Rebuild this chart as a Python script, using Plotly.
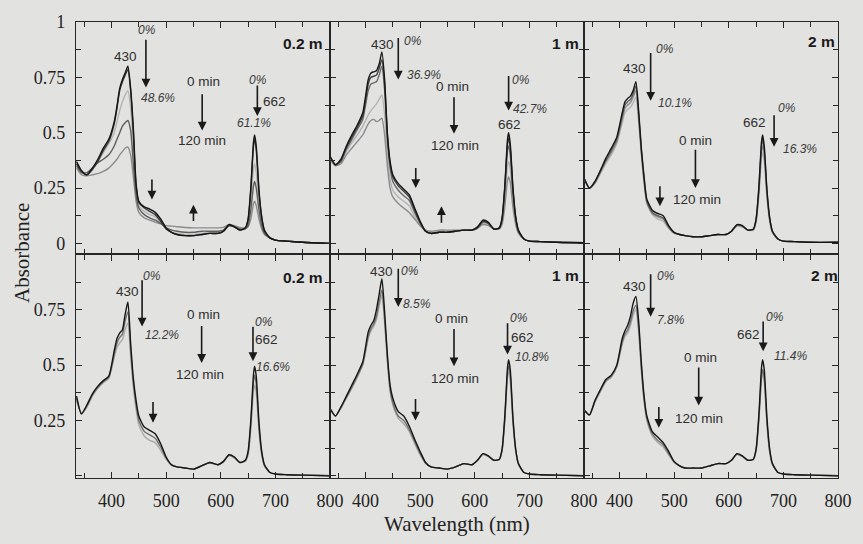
import plotly.graph_objects as go
from plotly.subplots import make_subplots

# ---------------- data ----------------
wavelength = [336, 345, 355, 365, 375, 385, 395, 405, 410, 415, 420, 425, 430, 435, 440, 445, 450,
              460, 470, 480, 490, 500, 510, 520, 535, 550, 565, 580, 595, 605, 615, 625, 635, 645,
              650, 655, 660, 662, 665, 670, 675, 680, 690, 700, 720, 750, 800]

# top row, 0.2 m
tl_0 = [0.37, 0.33, 0.31, 0.34, 0.38, 0.43, 0.47, 0.55, 0.62, 0.70, 0.74, 0.77, 0.80, 0.70, 0.52, 0.27, 0.19,
        0.165, 0.155, 0.14, 0.11, 0.07, 0.05, 0.04, 0.035, 0.035, 0.04, 0.045, 0.045, 0.055, 0.085, 0.075, 0.06, 0.07,
        0.11, 0.25, 0.46, 0.49, 0.44, 0.24, 0.12, 0.06, 0.025, 0.015, 0.01, 0.005, 0.0]
tl_1 = [0.36, 0.325, 0.31, 0.335, 0.37, 0.42, 0.46, 0.54, 0.61, 0.69, 0.73, 0.76, 0.785, 0.69, 0.50, 0.26, 0.185,
        0.16, 0.145, 0.13, 0.10, 0.065, 0.05, 0.04, 0.035, 0.035, 0.04, 0.045, 0.045, 0.055, 0.08, 0.075, 0.06, 0.07,
        0.105, 0.24, 0.44, 0.47, 0.42, 0.23, 0.115, 0.055, 0.025, 0.015, 0.01, 0.005, 0.0]
tl_2 = [0.36, 0.32, 0.31, 0.33, 0.37, 0.41, 0.45, 0.50, 0.55, 0.60, 0.64, 0.67, 0.69, 0.61, 0.45, 0.24, 0.17,
        0.145, 0.13, 0.12, 0.095, 0.065, 0.05, 0.045, 0.04, 0.04, 0.045, 0.05, 0.05, 0.055, 0.08, 0.075, 0.06, 0.065,
        0.09, 0.19, 0.34, 0.36, 0.32, 0.18, 0.095, 0.05, 0.025, 0.015, 0.01, 0.005, 0.0]
tl_3 = [0.35, 0.32, 0.32, 0.34, 0.365, 0.38, 0.40, 0.44, 0.47, 0.50, 0.53, 0.545, 0.555, 0.51, 0.36, 0.22, 0.16,
        0.13, 0.115, 0.105, 0.09, 0.07, 0.06, 0.055, 0.05, 0.05, 0.055, 0.055, 0.055, 0.06, 0.08, 0.075, 0.065, 0.065,
        0.08, 0.15, 0.26, 0.28, 0.25, 0.15, 0.08, 0.045, 0.025, 0.015, 0.01, 0.005, 0.0]
tl_4 = [0.34, 0.31, 0.305, 0.31, 0.315, 0.325, 0.34, 0.365, 0.38, 0.40, 0.415, 0.43, 0.435, 0.40, 0.30, 0.19, 0.14,
        0.115, 0.105, 0.095, 0.088, 0.08, 0.078, 0.075, 0.072, 0.07, 0.07, 0.07, 0.07, 0.072, 0.085, 0.08, 0.072, 0.07,
        0.075, 0.11, 0.18, 0.19, 0.17, 0.11, 0.065, 0.04, 0.025, 0.015, 0.01, 0.005, 0.0]

# top row, 1 m
tm_0 = [0.39, 0.355, 0.38, 0.44, 0.49, 0.535, 0.59, 0.74, 0.77, 0.775, 0.78, 0.81, 0.865, 0.74, 0.50, 0.37, 0.31,
        0.27, 0.245, 0.22, 0.16, 0.10, 0.055, 0.045, 0.05, 0.05, 0.055, 0.06, 0.06, 0.075, 0.105, 0.095, 0.065, 0.07,
        0.115, 0.26, 0.47, 0.50, 0.45, 0.25, 0.12, 0.06, 0.02, 0.01, 0.008, 0.005, 0.003]
tm_1 = [0.385, 0.355, 0.375, 0.435, 0.48, 0.525, 0.575, 0.72, 0.75, 0.755, 0.76, 0.79, 0.83, 0.72, 0.49, 0.36, 0.30,
        0.26, 0.235, 0.21, 0.15, 0.095, 0.055, 0.045, 0.05, 0.05, 0.055, 0.06, 0.06, 0.07, 0.10, 0.09, 0.065, 0.07,
        0.11, 0.25, 0.45, 0.475, 0.43, 0.24, 0.115, 0.055, 0.02, 0.01, 0.008, 0.005, 0.003]
tm_2 = [0.385, 0.355, 0.37, 0.425, 0.47, 0.515, 0.56, 0.69, 0.72, 0.725, 0.73, 0.76, 0.80, 0.69, 0.47, 0.34, 0.28,
        0.24, 0.215, 0.195, 0.14, 0.09, 0.055, 0.045, 0.05, 0.05, 0.055, 0.06, 0.06, 0.07, 0.095, 0.09, 0.065, 0.07,
        0.105, 0.235, 0.42, 0.44, 0.40, 0.225, 0.11, 0.055, 0.02, 0.01, 0.008, 0.005, 0.003]
tm_3 = [0.38, 0.355, 0.365, 0.415, 0.455, 0.49, 0.53, 0.58, 0.60, 0.615, 0.63, 0.65, 0.67, 0.58, 0.40, 0.29, 0.24,
        0.21, 0.19, 0.17, 0.12, 0.08, 0.055, 0.05, 0.055, 0.055, 0.058, 0.06, 0.06, 0.07, 0.09, 0.085, 0.065, 0.068,
        0.095, 0.20, 0.35, 0.37, 0.335, 0.19, 0.095, 0.05, 0.02, 0.01, 0.008, 0.005, 0.003]
tm_4 = [0.375, 0.35, 0.36, 0.40, 0.43, 0.46, 0.49, 0.54, 0.555, 0.56, 0.55, 0.555, 0.565, 0.49, 0.35, 0.25, 0.21,
        0.18, 0.16, 0.14, 0.11, 0.08, 0.06, 0.055, 0.06, 0.06, 0.06, 0.06, 0.06, 0.068, 0.085, 0.08, 0.065, 0.065,
        0.085, 0.165, 0.285, 0.30, 0.275, 0.16, 0.085, 0.045, 0.02, 0.01, 0.008, 0.005, 0.003]

# top row, 2 m
tr_0 = [0.29, 0.25, 0.28, 0.33, 0.385, 0.43, 0.48, 0.59, 0.64, 0.655, 0.665, 0.69, 0.73, 0.60, 0.43, 0.30, 0.20,
        0.15, 0.135, 0.125, 0.08, 0.05, 0.04, 0.035, 0.03, 0.03, 0.035, 0.04, 0.04, 0.055, 0.085, 0.08, 0.06, 0.065,
        0.11, 0.25, 0.46, 0.49, 0.44, 0.24, 0.115, 0.055, 0.02, 0.01, 0.008, 0.005, 0.005]
tr_1 = [0.29, 0.25, 0.275, 0.325, 0.375, 0.42, 0.47, 0.575, 0.625, 0.64, 0.65, 0.675, 0.71, 0.585, 0.42, 0.29, 0.19,
        0.14, 0.125, 0.115, 0.075, 0.048, 0.04, 0.035, 0.03, 0.03, 0.035, 0.04, 0.04, 0.055, 0.082, 0.078, 0.06, 0.063,
        0.105, 0.24, 0.44, 0.47, 0.42, 0.23, 0.11, 0.053, 0.02, 0.01, 0.008, 0.005, 0.005]
tr_2 = [0.29, 0.25, 0.275, 0.32, 0.37, 0.41, 0.46, 0.56, 0.61, 0.625, 0.635, 0.66, 0.69, 0.57, 0.41, 0.28, 0.185,
        0.135, 0.12, 0.11, 0.072, 0.047, 0.04, 0.035, 0.03, 0.03, 0.035, 0.04, 0.04, 0.055, 0.08, 0.076, 0.06, 0.062,
        0.10, 0.225, 0.415, 0.44, 0.40, 0.22, 0.105, 0.05, 0.02, 0.01, 0.008, 0.005, 0.005]
tr_3 = [0.29, 0.25, 0.27, 0.315, 0.36, 0.40, 0.45, 0.545, 0.59, 0.605, 0.615, 0.635, 0.66, 0.55, 0.40, 0.27, 0.18,
        0.13, 0.11, 0.10, 0.068, 0.045, 0.04, 0.035, 0.03, 0.03, 0.035, 0.04, 0.04, 0.055, 0.078, 0.074, 0.06, 0.06,
        0.095, 0.21, 0.385, 0.41, 0.37, 0.205, 0.10, 0.048, 0.02, 0.01, 0.008, 0.005, 0.005]

# bottom row, 0.2 m
bl_0 = [0.36, 0.28, 0.32, 0.37, 0.405, 0.43, 0.45, 0.565, 0.62, 0.645, 0.66, 0.73, 0.785, 0.60, 0.44, 0.34, 0.27,
        0.22, 0.205, 0.19, 0.145, 0.085, 0.05, 0.04, 0.035, 0.03, 0.045, 0.06, 0.05, 0.065, 0.095, 0.085, 0.06, 0.07,
        0.11, 0.25, 0.46, 0.495, 0.45, 0.24, 0.11, 0.05, 0.015, 0.008, 0.005, 0.003, 0.0]
bl_1 = [0.35, 0.28, 0.315, 0.365, 0.40, 0.425, 0.445, 0.55, 0.60, 0.625, 0.64, 0.70, 0.74, 0.57, 0.42, 0.32, 0.25,
        0.20, 0.185, 0.17, 0.13, 0.08, 0.048, 0.04, 0.035, 0.03, 0.045, 0.06, 0.05, 0.065, 0.093, 0.083, 0.06, 0.068,
        0.10, 0.23, 0.425, 0.455, 0.415, 0.22, 0.10, 0.047, 0.015, 0.008, 0.005, 0.003, 0.0]
bl_2 = [0.34, 0.28, 0.31, 0.36, 0.395, 0.42, 0.44, 0.535, 0.58, 0.60, 0.615, 0.66, 0.69, 0.54, 0.40, 0.30, 0.23,
        0.18, 0.16, 0.15, 0.115, 0.075, 0.047, 0.04, 0.035, 0.03, 0.045, 0.058, 0.05, 0.063, 0.09, 0.08, 0.06, 0.066,
        0.095, 0.21, 0.385, 0.41, 0.375, 0.20, 0.095, 0.045, 0.015, 0.008, 0.005, 0.003, 0.0]

# bottom row, 1 m
bm_0 = [0.30, 0.27, 0.31, 0.36, 0.41, 0.46, 0.515, 0.65, 0.68, 0.70, 0.75, 0.82, 0.89, 0.74, 0.55, 0.41, 0.35,
        0.29, 0.27, 0.225, 0.165, 0.11, 0.06, 0.04, 0.035, 0.03, 0.04, 0.055, 0.05, 0.07, 0.10, 0.09, 0.07, 0.075,
        0.12, 0.27, 0.49, 0.525, 0.48, 0.26, 0.12, 0.055, 0.015, 0.008, 0.005, 0.003, 0.0]
bm_1 = [0.30, 0.27, 0.31, 0.355, 0.40, 0.45, 0.505, 0.63, 0.665, 0.685, 0.72, 0.785, 0.84, 0.71, 0.53, 0.39, 0.33,
        0.27, 0.25, 0.21, 0.155, 0.10, 0.058, 0.04, 0.035, 0.03, 0.04, 0.055, 0.05, 0.07, 0.098, 0.088, 0.07, 0.074,
        0.115, 0.255, 0.465, 0.495, 0.455, 0.25, 0.115, 0.053, 0.015, 0.008, 0.005, 0.003, 0.0]
bm_2 = [0.30, 0.27, 0.305, 0.35, 0.395, 0.445, 0.50, 0.62, 0.655, 0.675, 0.705, 0.765, 0.815, 0.69, 0.52, 0.38, 0.32,
        0.26, 0.235, 0.20, 0.145, 0.095, 0.056, 0.04, 0.035, 0.03, 0.04, 0.055, 0.05, 0.07, 0.096, 0.086, 0.07, 0.073,
        0.11, 0.245, 0.445, 0.47, 0.43, 0.235, 0.11, 0.05, 0.015, 0.008, 0.005, 0.003, 0.0]

# bottom row, 2 m
br_0 = [0.295, 0.275, 0.34, 0.39, 0.435, 0.455, 0.50, 0.62, 0.655, 0.68, 0.72, 0.78, 0.81, 0.70, 0.51, 0.36, 0.27,
        0.20, 0.175, 0.15, 0.11, 0.065, 0.045, 0.035, 0.035, 0.035, 0.045, 0.055, 0.055, 0.07, 0.10, 0.09, 0.07, 0.075,
        0.12, 0.27, 0.49, 0.525, 0.48, 0.26, 0.12, 0.055, 0.015, 0.008, 0.005, 0.003, 0.0]
br_1 = [0.295, 0.275, 0.335, 0.385, 0.43, 0.45, 0.495, 0.605, 0.64, 0.66, 0.695, 0.745, 0.77, 0.67, 0.49, 0.345, 0.26,
        0.19, 0.16, 0.14, 0.10, 0.062, 0.045, 0.035, 0.035, 0.035, 0.045, 0.055, 0.055, 0.07, 0.098, 0.088, 0.07, 0.074,
        0.115, 0.255, 0.45, 0.48, 0.44, 0.24, 0.11, 0.052, 0.015, 0.008, 0.005, 0.003, 0.0]
br_2 = [0.295, 0.275, 0.335, 0.38, 0.425, 0.445, 0.49, 0.595, 0.63, 0.645, 0.68, 0.725, 0.75, 0.65, 0.475, 0.335, 0.25,
        0.18, 0.15, 0.13, 0.095, 0.06, 0.045, 0.035, 0.035, 0.035, 0.045, 0.055, 0.055, 0.07, 0.096, 0.086, 0.07, 0.073,
        0.11, 0.245, 0.435, 0.465, 0.425, 0.23, 0.105, 0.05, 0.015, 0.008, 0.005, 0.003, 0.0]

x_ticks = [400, 500, 600, 700, 800]
y_ticks = [0, 0.25, 0.5, 0.75, 1]
y_ticktext_top = ["0", "0.25", "0.5", "0.75", "1"]
y_ticktext_bottom = ["", "0.25", "0.5", "0.75", ""]

# (row, col): list of (series, colour); lighter curves first
panels = {
    (1, 1): [(tl_2, "#b4b4b4"), (tl_4, "#8c8c8c"), (tl_3, "#5e5e5e"), (tl_1, "#3a3a3a"), (tl_0, "#161616")],
    (1, 2): [(tm_3, "#b4b4b4"), (tm_4, "#8c8c8c"), (tm_2, "#6a6a6a"), (tm_1, "#3e3e3e"), (tm_0, "#161616")],
    (1, 3): [(tr_3, "#b4b4b4"), (tr_2, "#8c8c8c"), (tr_1, "#5a5a5a"), (tr_0, "#161616")],
    (2, 1): [(bl_2, "#ababab"), (bl_1, "#707070"), (bl_0, "#161616")],
    (2, 2): [(bm_2, "#ababab"), (bm_1, "#707070"), (bm_0, "#161616")],
    (2, 3): [(br_2, "#ababab"), (br_1, "#707070"), (br_0, "#161616")],
}

# annotation texts: (text, x, y, style)   n=normal, i=italic, b=bold
texts = {
    (1, 1): [("430", 425.5, 0.845, "n"), ("0%", 465, 0.962, "i"), ("48.6%", 486, 0.655, "i"),
             ("0 min", 568, 0.733, "n"), ("120 min", 565, 0.466, "n"), ("0%", 668, 0.74, "i"),
             ("662", 698, 0.64, "n"), ("61.1%", 660, 0.545, "i"), ("0.2 m", 750, 0.905, "b")],
    (1, 2): [("430", 431, 0.897, "n"), ("0%", 487, 0.915, "i"), ("36.9%", 507, 0.76, "i"),
             ("0 min", 560, 0.71, "n"), ("120 min", 564, 0.443, "n"), ("0%", 685, 0.74, "i"),
             ("42.7%", 702, 0.605, "i"), ("662", 663, 0.537, "n"), ("1 m", 766, 0.905, "b")],
    (1, 3): [("0%", 483, 0.88, "i"), ("430", 428, 0.79, "n"), ("10.1%", 501, 0.632, "i"),
             ("0%", 706, 0.61, "i"), ("662", 648, 0.545, "n"), ("16.3%", 730, 0.427, "i"),
             ("0 min", 540, 0.466, "n"), ("120 min", 542, 0.20, "n"), ("2 m", 769, 0.91, "b")],
    (2, 1): [("0%", 474, 0.902, "i"), ("430", 428.5, 0.833, "n"), ("12.2%", 492, 0.637, "i"),
             ("0 min", 568, 0.729, "n"), ("120 min", 562, 0.458, "n"), ("0%", 680, 0.693, "i"),
             ("662", 683, 0.615, "n"), ("16.6%", 696, 0.49, "i"), ("0.2 m", 750, 0.897, "b")],
    (2, 2): [("430", 430, 0.924, "n"), ("0%", 481, 0.923, "i"), ("8.5%", 495, 0.778, "i"),
             ("0 min", 558, 0.711, "n"), ("120 min", 563, 0.44, "n"), ("0%", 681, 0.714, "i"),
             ("662", 688, 0.625, "n"), ("10.8%", 705, 0.536, "i"), ("1 m", 766, 0.905, "b")],
    (2, 3): [("430", 428, 0.856, "n"), ("0%", 486, 0.902, "i"), ("7.8%", 495, 0.704, "i"),
             ("0%", 684, 0.719, "i"), ("662", 635.5, 0.637, "n"), ("11.4%", 713, 0.54, "i"),
             ("0 min", 548, 0.536, "n"), ("120 min", 546, 0.258, "n"), ("2 m", 775, 0.907, "b")],
}

# arrows: (x, y_tail, y_tip)
arrows = {
    (1, 1): [(463, 0.927, 0.704), (566, 0.68, 0.51), (667, 0.72, 0.575), (474, 0.295, 0.198), (550, 0.094, 0.175)],
    (1, 2): [(460, 0.934, 0.74), (562, 0.667, 0.495), (662, 0.763, 0.60), (492, 0.347, 0.25), (539, 0.086, 0.168)],
    (1, 3): [(457, 0.867, 0.644), (683, 0.585, 0.436), (539, 0.43, 0.25), (474, 0.265, 0.168)],
    (2, 1): [(456, 0.89, 0.674), (565, 0.684, 0.51), (659, 0.68, 0.518), (476, 0.34, 0.24)],
    (2, 2): [(460, 0.942, 0.763), (562, 0.67, 0.495), (660, 0.696, 0.548), (491.5, 0.354, 0.25)],
    (2, 3): [(457, 0.917, 0.719), (663, 0.704, 0.5625), (545, 0.496, 0.317), (472, 0.317, 0.217)],
}

# ---------------- figure ----------------
BG = "#e2e2e0"
AXC = "#262626"
SERIF = "Liberation Serif"
SANS = "Liberation Sans"

fig = make_subplots(rows=2, cols=3, horizontal_spacing=0, vertical_spacing=0,
                    row_heights=[235 / 461, 226 / 461])

for (r, c), curves in panels.items():
    for series, colour in curves:
        fig.add_trace(go.Scatter(x=wavelength, y=series, mode="lines",
                                 line=dict(color=colour, width=1.4, shape="spline", smoothing=0.6),
                                 showlegend=False, hoverinfo="skip"), row=r, col=c)


def refs(r, c):
    idx = (r - 1) * 3 + c
    s = "" if idx == 1 else str(idx)
    return "x" + s, "y" + s


for (r, c), items in texts.items():
    xr, yr = refs(r, c)
    for txt, x, y, style in items:
        if style == "i":
            t, size, col = "<i>" + txt + "</i>", 12, "#3a3a3a"
        elif style == "b":
            t, size, col = "<b>" + txt + "</b>", 15.5, "#1a1a1a"
        else:
            t, size, col = txt, 13.5, "#2e2e2e"
        fig.add_annotation(x=x, y=y, xref=xr, yref=yr, text=t, showarrow=False,
                           font=dict(family=SANS, size=size, color=col),
                           xanchor="center", yanchor="middle")

for (r, c), items in arrows.items():
    xr, yr = refs(r, c)
    for x, y0, y1 in items:
        fig.add_annotation(x=x, y=y1, ax=x, ay=y0, xref=xr, yref=yr, axref=xr, ayref=yr,
                           text="", showarrow=True, arrowhead=2, arrowsize=1.1,
                           arrowwidth=1.6, arrowcolor="#1a1a1a", standoff=0)

for r in (1, 2):
    for c in (1, 2, 3):
        fig.update_xaxes(range=[335, 800], tickvals=x_ticks, ticks="inside", ticklen=6,
                         tickwidth=1.2, tickcolor=AXC, showline=True, linecolor=AXC, linewidth=1.4,
                         mirror="ticks", showgrid=False, zeroline=False,
                         minor=dict(tickvals=[350, 450, 550, 650, 750], ticks="inside", ticklen=5,
                                    tickwidth=1.2, tickcolor=AXC, showgrid=False),
                         showticklabels=(r == 2), ticklabelstandoff=6,
                         tickfont=dict(family=SERIF, size=18, color="#222"),
                         row=r, col=c)
        fig.update_yaxes(range=[-0.05, 1.0] if r == 1 else [-0.01, 1.0],
                         tickvals=y_ticks,
                         ticktext=y_ticktext_top if r == 1 else y_ticktext_bottom,
                         ticks="inside", ticklen=6, tickwidth=1.2, tickcolor=AXC,
                         showline=True, linecolor=AXC, linewidth=1.4, mirror="ticks",
                         showgrid=False, zeroline=False,
                         minor=dict(tickvals=[0.125, 0.375, 0.625, 0.875], ticks="inside", ticklen=5,
                                    tickwidth=1.2, tickcolor=AXC, showgrid=False),
                         showticklabels=(c == 1), ticklabelstandoff=6,
                         tickfont=dict(family=SERIF, size=18, color="#222"),
                         row=r, col=c)

fig.add_annotation(x=(22 - 76) / 769, y=(478 - 250) / 461, xref="paper", yref="paper",
                   text="Absorbance", textangle=-90, showarrow=False,
                   font=dict(family=SERIF, size=21, color="#222"), xanchor="center", yanchor="middle")
fig.add_annotation(x=0.5, y=(478 - 525) / 461, xref="paper", yref="paper",
                   text="Wavelength (nm)", showarrow=False,
                   font=dict(family=SERIF, size=21, color="#222"), xanchor="center", yanchor="middle")

fig.update_layout(width=863, height=544, autosize=False, margin=dict(l=76, r=18, t=17, b=66),
                  paper_bgcolor=BG, plot_bgcolor=BG, showlegend=False)

fig.write_html("out.html", config={"responsive": False, "displayModeBar": False},
               post_script="document.body.style.margin='0';document.body.style.overflow='hidden';")
